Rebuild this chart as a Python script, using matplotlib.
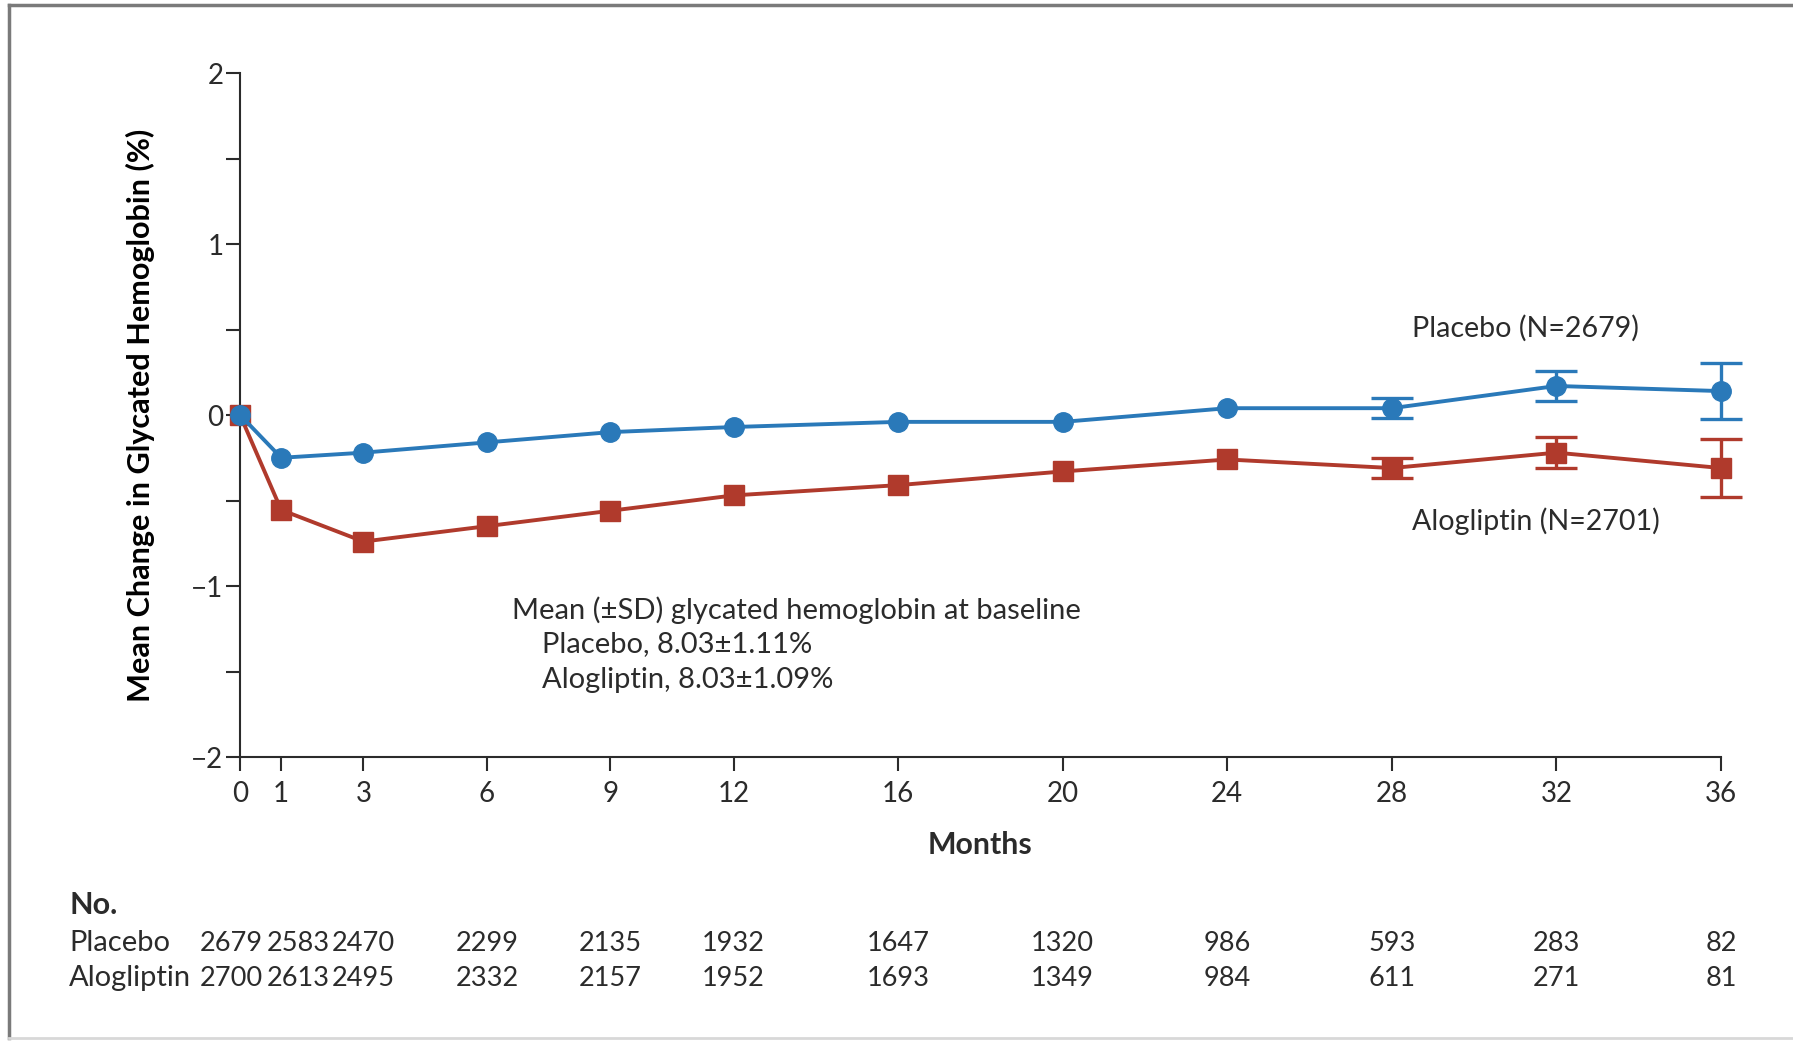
import matplotlib
matplotlib.use('Agg')
import matplotlib.pyplot as plt
import matplotlib.transforms as mtransforms
from matplotlib.lines import Line2D

# ---- data ----
months = [0, 1, 3, 6, 9, 12, 16, 20, 24, 28, 32, 36]
placebo = [0.0, -0.25, -0.22, -0.16, -0.10, -0.07, -0.04, -0.04, 0.04, 0.04, 0.17, 0.14]
placebo_sd = [0.01, 0.02, 0.02, 0.02, 0.02, 0.03, 0.03, 0.03, 0.04, 0.06, 0.09, 0.165]
alog = [0.0, -0.555, -0.74, -0.65, -0.56, -0.47, -0.41, -0.33, -0.26, -0.31, -0.22, -0.31]
alog_sd = [0.01, 0.02, 0.02, 0.02, 0.02, 0.03, 0.03, 0.03, 0.04, 0.06, 0.09, 0.17]
n_placebo = [2679, 2583, 2470, 2299, 2135, 1932, 1647, 1320, 986, 593, 283, 82]
n_alog = [2700, 2613, 2495, 2332, 2157, 1952, 1693, 1349, 984, 611, 271, 81]

BLUE = '#2a79b9'
RED = '#b03a2c'
DARK = '#2b2b2b'
plt.rcParams.update({'font.family': ['Lato', 'DejaVu Sans'], 'font.size': 20.5,
                     'text.color': DARK})

fig = plt.figure(figsize=(17.93, 10.42), dpi=100)
ax = fig.add_axes([0.1339, 0.2735, 0.8259, 0.6564])

# error bars are only visible from month 28 on; earlier ones hide behind markers
ax.errorbar(months, alog, yerr=alog_sd, errorevery=(9, 1), color=RED, lw=2.8,
            marker='s', ms=14, capsize=15, capthick=2.4, elinewidth=2.4,
            clip_on=False, zorder=3)
ax.errorbar(months, placebo, yerr=placebo_sd, errorevery=(9, 1), color=BLUE, lw=2.8,
            marker='o', ms=14, capsize=15, capthick=2.4, elinewidth=2.4,
            clip_on=False, zorder=4)

ax.set_xlim(0, 36)
ax.set_ylim(-2, 2)
ax.set_xticks(months)
ax.set_yticks([-2, -1, 0, 1, 2])
ax.set_yticklabels(['\u22122', '\u22121', '0', '1', '2'])
ax.set_yticks([-1.5, -0.5, 0.5, 1.5], minor=True)
for s in ('top', 'right'):
    ax.spines[s].set_visible(False)
for s in ('left', 'bottom'):
    ax.spines[s].set_color(DARK)
    ax.spines[s].set_linewidth(1.5)
ax.tick_params(axis='both', which='both', direction='out', length=10, width=1.5,
               color=DARK, labelcolor=DARK)
ax.tick_params(axis='both', labelsize=20)
ax.tick_params(axis='x', pad=7)
ax.tick_params(axis='y', pad=2)

ax.set_ylabel('Mean Change in Glycated Hemoglobin (%)', fontweight='bold',
              fontsize=22.1, labelpad=26)
fig.text(0.5466, 0.189, 'Months', fontweight='bold', fontsize=21.8,
         ha='center', va='center')

ax.text(28.5, 0.51, 'Placebo (N=2679)', va='center', ha='left', fontsize=20.6)
ax.text(28.5, -0.62, 'Alogliptin (N=2701)', va='center', ha='left', fontsize=20.6)

ax.text(6.6, -1.14, 'Mean (\u00b1SD) glycated hemoglobin at baseline', va='center',
        fontsize=21)
ax.text(7.35, -1.34, 'Placebo, 8.03\u00b11.11%', va='center', fontsize=21)
ax.text(7.35, -1.55, 'Alogliptin, 8.03\u00b11.09%', va='center', fontsize=21)

# ---- numbers at risk ----
tr = mtransforms.blended_transform_factory(ax.transData, fig.transFigure)
fig.text(0.0385, 0.131, 'No.', fontweight='bold', fontsize=22, va='center')
fig.text(0.0385, 0.095, 'Placebo', va='center', fontsize=21)
fig.text(0.0385, 0.061, 'Alogliptin', va='center', fontsize=21)
shift = {0: -6.2, 1: 12.3, 3: 0}
for m, a, b in zip(months, n_placebo, n_alog):
    dx = shift.get(m, 0)
    ax.annotate(str(a), (m, 0.095), xycoords=tr, xytext=(dx, 0), textcoords='offset points',
                ha='center', va='center', fontsize=19.5, annotation_clip=False)
    ax.annotate(str(b), (m, 0.061), xycoords=tr, xytext=(dx, 0), textcoords='offset points',
                ha='center', va='center', fontsize=19.5, annotation_clip=False)

# ---- gray frame ----
fig.add_artist(Line2D([0.005, 0.005], [0.0035, 0.995], transform=fig.transFigure,
                      color='#7a7a7a', lw=2.5))
fig.add_artist(Line2D([0.005, 1.0], [0.995, 0.995], transform=fig.transFigure,
                      color='#7a7a7a', lw=2.5))
fig.add_artist(Line2D([0.005, 1.0], [0.0035, 0.0035], transform=fig.transFigure,
                      color='#d8d8d8', lw=2))

fig.savefig('out.png', dpi=100)
